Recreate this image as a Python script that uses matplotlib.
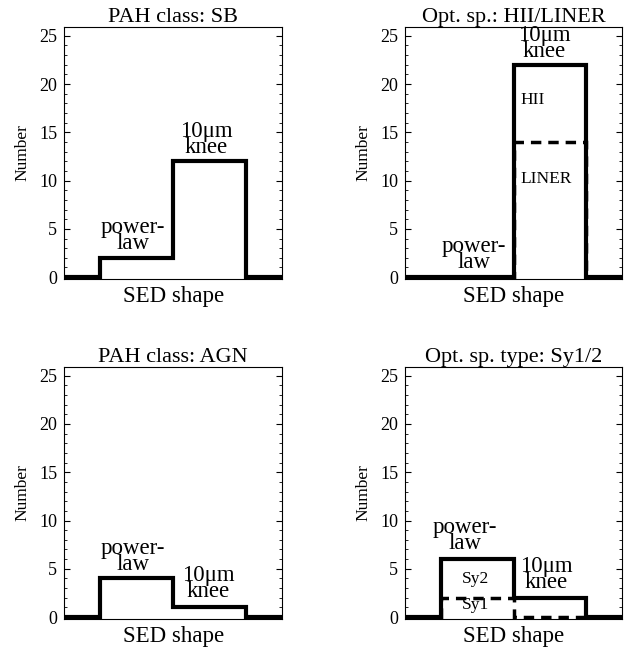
import matplotlib
matplotlib.use("Agg")
import matplotlib.pyplot as plt
from matplotlib.ticker import MultipleLocator

plt.rcParams["font.family"] = ["Liberation Serif", "DejaVu Serif"]

# bins: power-law, 10um knee
edges = [-0.5, 0, 1, 2, 2.5]
sb_counts = [2, 12]
agn_counts = [4, 1]
hii_liner_total = [0, 22]
liner_counts = [0, 14]
sy_total = [6, 2]
sy1_counts = [2, 0]

titles = ["PAH class: SB", "Opt. sp.: HII/LINER", "PAH class: AGN", "Opt. sp. type: Sy1/2"]

fig = plt.figure(figsize=(6.34, 6.52), dpi=100)
boxes = [(0.101, 0.572, 0.344, 0.3865), (0.639, 0.572, 0.342, 0.3865),
         (0.101, 0.0506, 0.344, 0.3865), (0.639, 0.0506, 0.342, 0.3865)]


def pad(v):
    return [0] + list(v) + [0]


def setup(ax, title):
    ax.set_xlim(-0.5, 2.5)
    ax.set_ylim(-0.2, 25.9)
    ax.set_xticks([])
    ax.yaxis.set_major_locator(MultipleLocator(5))
    ax.yaxis.set_minor_locator(MultipleLocator(1))
    ax.tick_params(axis="y", which="both", direction="in", left=True, right=True, labelsize=13)
    ax.tick_params(axis="y", which="major", length=4, width=0.8, pad=5)
    ax.tick_params(axis="y", which="minor", length=2, width=0.6)
    for s in ax.spines.values():
        s.set_linewidth(0.8)
    ax.set_title(title, fontsize=16, pad=3)
    ax.set_xlabel("SED shape", fontsize=16.5, labelpad=5)
    ax.set_ylabel("Number", fontsize=12.5, labelpad=6)


axes = [fig.add_axes(b) for b in boxes]
for ax, t in zip(axes, titles):
    setup(ax, t)

ann = dict(ha="center", va="bottom", fontsize=16.5, linespacing=0.68)
inner = dict(fontsize=12.5, va="center")

# SB
ax = axes[0]
ax.stairs(pad(sb_counts), edges, color="black", lw=3)
ax.text(0.45, sb_counts[0] + 0.4, "power-\nlaw", **ann)
ax.text(1.46, sb_counts[1] + 0.3, "10μm\nknee", **ann)

# HII/LINER
ax = axes[1]
ax.stairs(pad(liner_counts), edges, color="black", lw=2.5, ls=(0, (3, 2)))
ax.stairs(pad(hii_liner_total), edges, color="black", lw=3)
ax.text(0.45, hii_liner_total[0] + 0.4, "power-\nlaw", **ann)
ax.text(1.42, hii_liner_total[1] + 0.3, "10μm\nknee", **ann)
ax.text(1.1, 18.3, "HII", ha="left", **inner)
ax.text(1.1, 10.2, "LINER", ha="left", **inner)

# AGN
ax = axes[2]
ax.stairs(pad(agn_counts), edges, color="black", lw=3)
ax.text(0.45, agn_counts[0] + 0.4, "power-\nlaw", **ann)
ax.text(1.48, agn_counts[1] + 0.6, "10μm\nknee", **ann)

# Sy1/2
ax = axes[3]
ax.stairs(pad(sy_total), edges, color="black", lw=3)
ax.stairs(pad(sy1_counts), edges, color="black", lw=2.5, ls=(0, (3, 2)))
ax.text(0.33, sy_total[0] + 0.5, "power-\nlaw", **ann)
ax.text(1.45, sy_total[1] + 0.5, "10μm\nknee", **ann)
ax.text(0.48, 3.9, "Sy2", ha="center", **inner)
ax.text(0.48, 1.2, "Sy1", ha="center", **inner)

fig.savefig("out.png", dpi=100)
